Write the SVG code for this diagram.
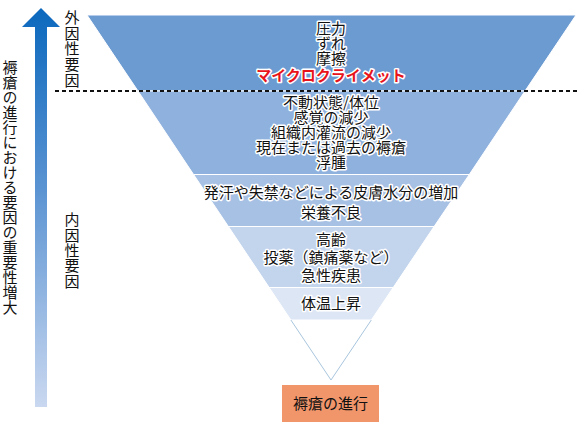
<svg xmlns="http://www.w3.org/2000/svg" width="580" height="428" viewBox="0 0 580 428">
<defs>
<linearGradient id="ag" x1="0" y1="0" x2="0" y2="1">
<stop offset="0" stop-color="#0b68bd"/>
<stop offset="0.45" stop-color="#5a93d2"/>
<stop offset="1" stop-color="#cad8f0"/>
</linearGradient>
<style>
.t{font-family:"Noto Sans CJK JP","Noto Sans",sans-serif;font-size:15px;fill:#111;text-anchor:middle;stroke:#fff;stroke-width:3px;paint-order:stroke;stroke-linejoin:round}
.v{font-family:"Noto Sans CJK JP","Noto Sans",sans-serif;font-size:15px;fill:#111;writing-mode:vertical-rl}
.band{stroke:#fff;stroke-width:1}
</style>
</defs>
<rect width="580" height="428" fill="#fff"/>
<g id="arrow">
<polygon points="35,27 22,27 41,8 60,27 47,27 47,407 35,407" fill="url(#ag)"/>
</g>
<g id="axis-label">
<text class="v" x="10" y="60">褥瘡の進行における要因の重要性増大</text>
</g>
<g id="external-label">
<text class="v" x="72" y="10" style="letter-spacing:0.6px">外因性要因</text>
</g>
<g id="internal-label">
<text class="v" x="72" y="212" style="letter-spacing:0.4px">内因性要因</text>
</g>
<g id="band1">
<polygon class="band" points="87,15 576,15 525,91 138,91" fill="#6b9bd1"/>
<text class="t" x="331" y="34">圧力</text>
<text class="t" x="331" y="49">ずれ</text>
<text class="t" x="331" y="64">摩擦</text>
<text class="t" x="331" y="81" style="fill:#e8141b;font-weight:bold">マイクロクライメット</text>
</g>
<g id="band2">
<polygon class="band" points="138,91 525,91 469.3,174.5 193.6,174.5" fill="#8fb1dd"/>
<text class="t" x="331" y="108">不動状態/体位</text>
<text class="t" x="331" y="123">感覚の減少</text>
<text class="t" x="331" y="138">組織内灌流の減少</text>
<text class="t" x="331" y="153">現在または過去の褥瘡</text>
<text class="t" x="331" y="168">浮腫</text>
</g>
<g id="band3">
<polygon class="band" points="193.6,174.5 469.3,174.5 434.1,226.5 228.4,226.5" fill="#a7c1e4"/>
<text class="t" x="331" y="198">発汗や失禁などによる皮膚水分の増加</text>
<text class="t" x="331" y="218">栄養不良</text>
</g>
<g id="band4">
<polygon class="band" points="228.4,226.5 434.1,226.5 393.2,287.5 269.2,287.5" fill="#c3d4ed"/>
<text class="t" x="331" y="245">高齢</text>
<text class="t" x="331" y="263">投薬（鎮痛薬など）</text>
<text class="t" x="331" y="281">急性疾患</text>
</g>
<g id="band5">
<polygon class="band" points="269.2,287.5 393.2,287.5 371.3,320 290.9,320" fill="#dde6f5"/>
<text class="t" x="331" y="309">体温上昇</text>
</g>
<g id="apex">
<polyline points="290.9,320 331,380 371.3,320" fill="none" stroke="#a9c6de" stroke-width="1"/>
</g>
<g id="connectors">
<line x1="55" y1="91" x2="577" y2="91" stroke="#111" stroke-width="2" stroke-dasharray="4,3"/>
</g>
<g id="result">
<rect x="282" y="385" width="97" height="37" fill="#f1956b"/>
<text class="t" x="330.5" y="409" style="stroke:none">褥瘡の進行</text>
</g>
</svg>
